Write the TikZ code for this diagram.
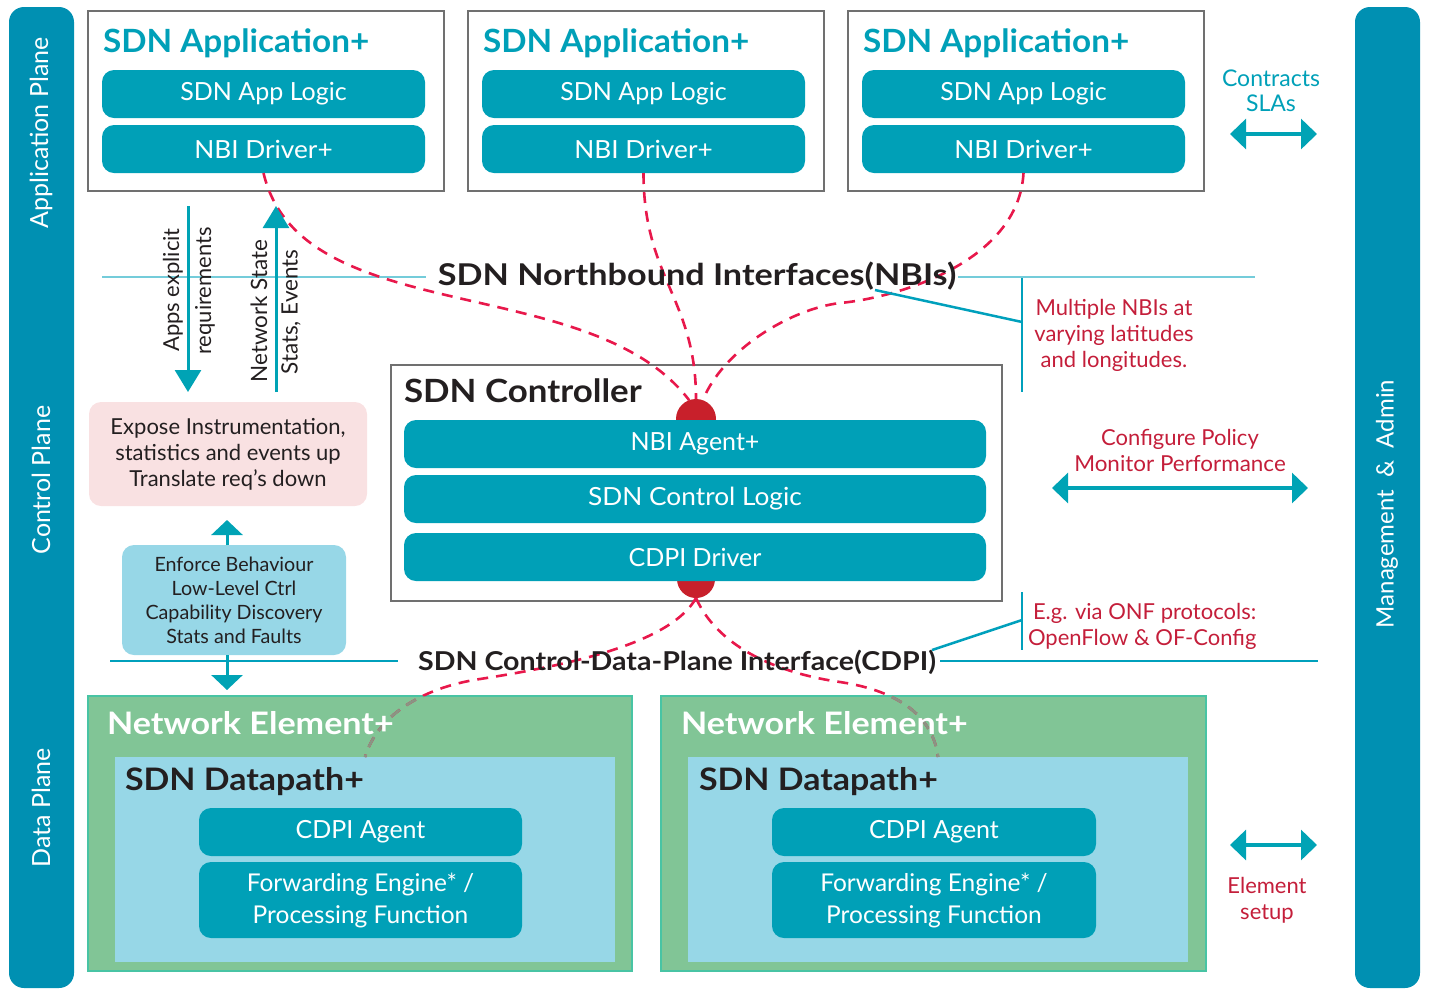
\documentclass[tikz,border=0pt]{standalone}
\usepackage{fontspec}
\setmainfont{Lato}
\usetikzlibrary{arrows.meta}

\definecolor{barblue}{HTML}{0090B2}
\definecolor{boxteal}{HTML}{00A0B7}
\definecolor{headteal}{HTML}{00A0B8}
\definecolor{arrowteal}{HTML}{00A3B5}
\definecolor{lineteal}{HTML}{00A0BC}
\definecolor{linelight}{HTML}{74CCDA}
\definecolor{framegray}{HTML}{707070}
\definecolor{pinkfill}{HTML}{F9E1E2}
\definecolor{skyfill}{HTML}{97D7E7}
\definecolor{greenfill}{HTML}{81C596}
\definecolor{greenedge}{HTML}{48C4A4}
\definecolor{dashred}{HTML}{E8184B}
\definecolor{dotred}{HTML}{C8202B}
\definecolor{notered}{HTML}{C41E3A}
\definecolor{inkblack}{HTML}{231F20}
\definecolor{dashgray}{HTML}{8A9484}

\newcommand{\fsz}[2]{\fontsize{#1}{#2}\selectfont}
% horizontally widened heading text
\newcommand{\wide}[2]{\scalebox{#1}[1]{#2}}

\begin{document}
\begin{tikzpicture}[x=1pt,y=-1pt,
  every node/.style={inner sep=0pt, outer sep=0pt},
  sidebar/.style={fill=barblue, rounded corners=15pt, minimum width=65pt,
    minimum height=981pt, anchor=north west},
  sidetext/.style={text=white, rotate=90, font=\fsz{25}{28}},
  frame/.style={draw=framegray, line width=2.5pt, fill=white, anchor=north west},
  tealbox/.style={fill=boxteal, rounded corners=12pt, text=white, font=\fsz{25}{32},
    align=center, anchor=north west, minimum height=48pt},
  apptitle/.style={text=headteal, font=\bfseries\fsz{32}{34}, anchor=base west},
  blacktitle/.style={text=inkblack, font=\bfseries\fsz{32}{34}, anchor=base west},
  whitetitle/.style={text=white, font=\bfseries\fsz{31}{34}, anchor=base west},
  ifacelabel/.style={text=inkblack, font=\bfseries\fsz{30}{32}},
  note/.style={text=notered, font=\fsz{22}{26}, align=center},
  bodytext/.style={text=inkblack, font=\fsz{22}{26}, align=center},
  arrowtext/.style={text=inkblack, font=\fsz{22}{24}, rotate=90},
  iface/.style={line width=2pt},
  pointer/.style={draw=lineteal, line width=2.5pt},
  reddash/.style={draw=dashred, line width=2.6pt, dash pattern=on 11pt off 8pt},
  graydash/.style={draw=dashgray, line width=2.6pt, dash pattern=on 11pt off 8pt},
  vflow/.style={draw=arrowteal, line width=3pt, -{Triangle[width=26pt,length=22pt]}},
  stubflow/.style={draw=arrowteal, line width=3pt, -{Triangle[width=31pt,length=15pt]}},
  twoway/.style={draw=arrowteal, line width=3.2pt,
    {Triangle[width=30pt,length=16pt]}-{Triangle[width=30pt,length=16pt]}}
]
\useasboundingbox (0,0) rectangle (1429,989);

% side bars with the plane names
\node[sidebar] (appbar) at (9,7) {};
\node[sidebar] (mgmtbar) at (1355,7) {};
\node[sidetext] (apptag) at (41,133) {Application Plane};
\node[sidetext] (ctltag) at (41,480) {Control Plane};
\node[sidetext] (datatag) at (41,808) {Data Plane};
\node[sidetext, font=\fsz{24}{28}] (mgmttag) at (1387,504) {Management\ \ \&\ \ Admin};

% application plane
\foreach \i/\x in {1/88, 2/468, 3/848} {
  \node[frame, minimum width=356pt, minimum height=180pt] (app\i) at (\x,11) {};
  \node[apptitle] (apptitle\i) at (\x+15,52) {\wide{1.04}{SDN Application+}};
  \node[tealbox, minimum width=323pt] (logic\i) at (\x+14,70) {SDN App Logic};
  \node[tealbox, minimum width=323pt] (drv\i) at (\x+14,125) {\wide{1.05}{NBI Driver+}};
}

% northbound interface line
\draw[iface, draw=linelight] (102,277) -- (426,277);
\draw[iface, draw=linelight] (958,277) -- (1255,277);

% controller
\node[frame, minimum width=611pt, minimum height=236pt] (ctrl) at (391,365) {};
\node[blacktitle] (ctrltitle) at (404,402) {\wide{1.09}{SDN Controller}};
\node[circle, fill=dotred, minimum size=40pt] (nbidot) at (696,419) {};
\node[circle, fill=dotred, minimum size=38pt] (cdpidot) at (696,579) {};
\node[tealbox, minimum width=582pt] (nbiagent) at (404,420) {NBI Agent+};
\node[tealbox, minimum width=582pt] (ctrllogic) at (404,475) {\wide{1.05}{SDN Control Logic}};
\node[tealbox, minimum width=582pt] (cdpidrv) at (404,533) {CDPI Driver};

% dashed links from the applications down to the controller
\coordinate (bend3) at (840,303);
\draw[reddash] (drv1.south) .. controls +(37,157) and +(-99,-130) .. (nbidot.110);
\draw[reddash] (drv2.south) .. controls +(0,105) and +(0,-100) .. (nbidot.north);
\draw[reddash] (drv3.south) .. controls +(-5,90) and +(55,-5) .. (bend3)
  .. controls +(-50,6) and +(20,-50) .. (nbidot.70);

\node[ifacelabel] (nbilabel) at (697,276) {\wide{1.14}{SDN Northbound Interfaces(NBIs)}};

% flows beside the northbound interface
\coordinate (reqtop) at (188,206);
\coordinate (reqbot) at (188,392);
\coordinate (statbot) at (276,392);
\coordinate (stattop) at (276,206);
\draw[vflow] (reqtop) -- (reqbot);
\draw[vflow] (statbot) -- (stattop);
\node[arrowtext] (req1) at (173,290) {Apps explicit};
\node[arrowtext] (req2) at (205,291) {requirements};
\node[arrowtext, font=\fsz{22.5}{24}] (stat1) at (259,311) {Network State};
\node[arrowtext, font=\fsz{22.5}{24}] (stat2) at (291,312) {Stats, Events};

% agent roles
\node[fill=pinkfill, rounded corners=12pt, minimum width=278pt, minimum height=104pt,
  anchor=north west] (expose) at (89,402) {};
\node[bodytext] (exposetext) at (expose.center)
  {Expose Instrumentation,\\statistics and events up\\Translate req’s down};
\node[fill=skyfill, rounded corners=12pt, minimum width=224pt, minimum height=110pt,
  anchor=north west] (enforce) at (122,545) {};
\node[bodytext, font=\fsz{19.7}{24}] (enforcetext) at (enforce.center)
  {Enforce Behaviour\\Low-Level Ctrl\\Capability Discovery\\Stats and Faults};
\coordinate (upfrom) at (227,545);
\coordinate (upto) at (227,520);
\coordinate (downfrom) at (227,655);
\coordinate (downto) at (227,690);
\draw[stubflow] (upfrom) -- (upto);
\draw[stubflow] (downfrom) -- (downto);

% data plane
\node[fill=greenfill, draw=greenedge, line width=2.5pt, minimum width=544pt,
  minimum height=275pt, anchor=north west] (ne1) at (88,696) {};
\node[fill=greenfill, draw=greenedge, line width=2.5pt, minimum width=545pt,
  minimum height=275pt, anchor=north west] (ne2) at (661,696) {};
\node[fill=skyfill, minimum width=500pt, minimum height=205pt, anchor=north west] (dp1) at (115,757) {};
\node[fill=skyfill, minimum width=500pt, minimum height=205pt, anchor=north west] (dp2) at (688,757) {};
\node[blacktitle, font=\bfseries\fsz{31}{34}] (dptitle1) at (125,790) {\wide{1.095}{SDN Datapath+}};
\node[blacktitle, font=\bfseries\fsz{31}{34}] (dptitle2) at (699,790) {\wide{1.095}{SDN Datapath+}};
\node[tealbox, minimum width=323pt] (agent1) at (199,808) {CDPI Agent};
\node[tealbox, minimum width=324pt] (agent2) at (772,808) {CDPI Agent};
\node[tealbox, font=\fsz{24.5}{32}, minimum width=323pt, minimum height=76pt] (fwd1) at (199,862)
  {Forwarding Engine* /\\Processing Function};
\node[tealbox, font=\fsz{24.5}{32}, minimum width=324pt, minimum height=76pt] (fwd2) at (772,862)
  {Forwarding Engine* /\\Processing Function};

% control-data-plane interface line
\draw[iface, line width=2.5pt, draw=lineteal] (110,661) -- (398,661);
\draw[iface, line width=2.5pt, draw=lineteal] (940,661) -- (1318,661);

% dashed links from the controller down to the datapaths
\coordinate (lbend) at (480,679);
\coordinate (rbend) at (840,682);
\draw[reddash] (cdpidot.south) .. controls +(-25,45) and +(90,-14) .. (lbend)
  .. controls +(-60,9) and +(12,-40) .. (dp1.north);
\draw[reddash] (cdpidot.south) .. controls +(20,45) and +(-70,-10) .. (rbend)
  .. controls +(60,9) and +(-5,-40) .. (dp2.north);
\begin{scope}
  \clip (ne1.north west) rectangle (ne2.south east);
  \draw[graydash] (cdpidot.south) .. controls +(-25,45) and +(90,-14) .. (lbend)
    .. controls +(-60,9) and +(12,-40) .. (dp1.north);
  \draw[graydash] (cdpidot.south) .. controls +(20,45) and +(-70,-10) .. (rbend)
    .. controls +(60,9) and +(-5,-40) .. (dp2.north);
\end{scope}

\node[whitetitle] (netitle1) at (107,734) {\wide{1.1}{Network Element+}};
\node[whitetitle] (netitle2) at (681,734) {\wide{1.1}{Network Element+}};
\node[ifacelabel, font=\bfseries\fsz{26}{28}] (cdpilabel) at (677,662)
  {\wide{1.1}{SDN Control-Data-Plane Interface(CDPI)}};

% annotations on the right
\coordinate (nbifrom) at (875,290);
\coordinate (nbibracket) at (1022,322);
\coordinate (nbibartop) at (1022,278);
\coordinate (nbibarbot) at (1022,392);
\draw[pointer] (nbifrom) -- (nbibracket);
\draw[pointer] (nbibartop) -- (nbibarbot);
\node[note] (multinote) at (1114,335)
  {Multiple NBIs at\\varying latitudes\\and longitudes.};

\coordinate (cdpifrom) at (932,650);
\coordinate (cdpibracket) at (1022,620);
\coordinate (cdpibartop) at (1022,592);
\coordinate (cdpibarbot) at (1022,650);
\draw[pointer] (cdpifrom) -- (cdpibracket);
\draw[pointer] (cdpibartop) -- (cdpibarbot);
\node[note, align=left, anchor=west] (onfnote) at (1028,626)
  {\hspace*{5pt}E.g. via ONF protocols:\\OpenFlow \& OF-Config};

\node[note, text=headteal, font=\fsz{23}{24}, anchor=base] (slanote1) at (1271,86) {Contracts};
\node[note, text=headteal, font=\fsz{23}{24}, anchor=base] (slanote2) at (1271,111) {SLAs};
\coordinate (slaL) at (1230,134);
\coordinate (slaR) at (1317,134);
\draw[twoway] (slaL) -- (slaR);

\node[note] (cfgnote) at (1180,450) {Configure Policy\\\wide{1.02}{Monitor Performance}};
\coordinate (cfgL) at (1052,488);
\coordinate (cfgR) at (1308,488);
\draw[twoway] (cfgL) -- (cfgR);

\coordinate (elL) at (1230,845);
\coordinate (elR) at (1317,845);
\draw[twoway] (elL) -- (elR);
\node[note] (elnote) at (1267,900) {Element\\setup};
\end{tikzpicture}
\end{document}
